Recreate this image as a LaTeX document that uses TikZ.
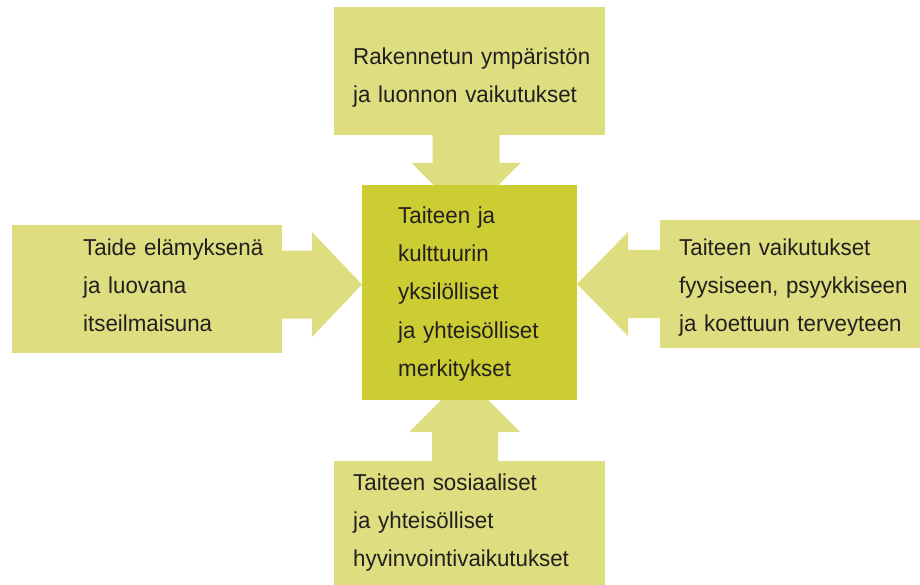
\documentclass[tikz,border=0pt]{standalone}
\usepackage{fontspec}
\setmainfont{Liberation Sans}[FakeStretch=0.97]
\usetikzlibrary{backgrounds}
\definecolor{outerc}{HTML}{DEDE80}
\definecolor{innerc}{HTML}{CCCC33}
\definecolor{txtc}{HTML}{231F20}
\tikzset{
  box/.style={rectangle, fill=outerc, inner sep=0pt, outer sep=0pt, anchor=north west},
  corebox/.style={rectangle, fill=innerc, inner sep=0pt, outer sep=0pt, anchor=north west,
    minimum width=215pt, minimum height=215pt},
  boxtext/.style={anchor=base west, inner sep=0pt, text width=260pt, align=left,
    text=txtc, font=\fontsize{23}{38.3}\selectfont},
  blockarrow/.style={fill=outerc}
}
\begin{document}
\begin{tikzpicture}[x=1pt,y=-1pt]
\useasboundingbox (0,0) rectangle (920,585);
% boxes
\node[box, minimum width=271pt, minimum height=128pt] (top) at (334,7) {};
\node[box, minimum width=270pt, minimum height=128pt] (left) at (12,225) {};
\node[box, minimum width=260pt, minimum height=128pt] (right) at (660,220) {};
\node[box, minimum width=271pt, minimum height=124pt] (bottom) at (334,461) {};
\node[corebox] (core) at (362,185) {};
% block arrows
\begin{pgfonlayer}{background}
\fill[blockarrow] ([xshift=-37pt]top.south) -- ++(0,28) -- ++(-21,0) -- ++(54.5,54.5)
  -- ++(54.5,-54.5) -- ++(-21,0) -- ++(0,-28) -- cycle;
\fill[blockarrow] ([yshift=38.5pt]left.east) -- ++(30,0) -- ++(0,-18.5) -- (core.west |- 0,284.5)
  -- ++(-50,52.5) -- ++(0,-18.5) -- ++(-30,0) -- cycle;
\fill[blockarrow] ([yshift=34pt]right.west) -- ++(-32,0) -- ++(0,-18) -- (core.east |- 0,284)
  -- ++(51,52) -- ++(0,-18) -- ++(32,0) -- cycle;
\fill[blockarrow] ([xshift=-37.5pt]bottom.north) -- ++(0,-29) -- ++(-23,0) -- ++(55.5,-55.5)
  -- ++(55.5,55.5) -- ++(-22,0) -- ++(0,29) -- cycle;
\end{pgfonlayer}
% texts
\node[boxtext] (toptext) at (353,64.5) {Rakennetun ympäristön\\ja luonnon vaikutukset};
\node[boxtext] (lefttext) at (83,255) {Taide elämyksenä\\ja luovana\\itseilmaisuna};
\node[boxtext] (righttext) at (679,255) {Taiteen vaikutukset\\fyysiseen, psyykkiseen\\ja koettuun terveyteen};
\node[boxtext] (bottomtext) at (353,490) {Taiteen sosiaaliset\\ja yhteisölliset\\hyvinvointivaikutukset};
\node[boxtext] (coretext) at (398,223.3) {Taiteen ja\\kulttuurin\\yksilölliset\\ja yhteisölliset\\merkitykset};
\end{tikzpicture}
\end{document}
